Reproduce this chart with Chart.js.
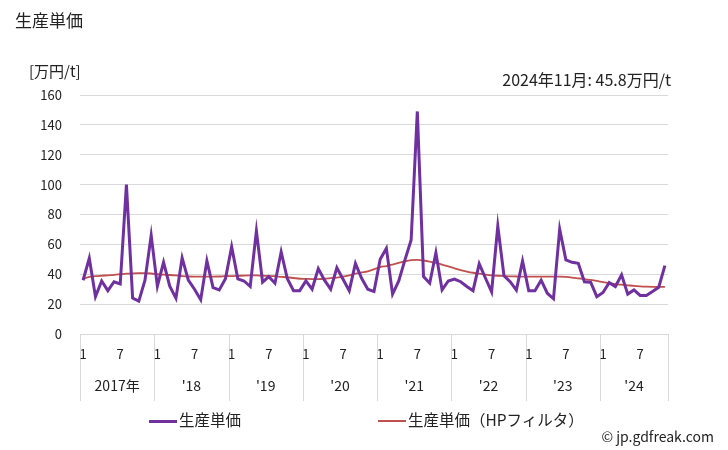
<!DOCTYPE html>
<html>
<head>
<meta charset="utf-8">
<script src="https://cdn.jsdelivr.net/npm/chart.js@4"></script>
<style>
body { margin: 0; background: #fff; font-family: "Noto Sans CJK JP", sans-serif; }
#wrap { position: relative; width: 728px; height: 450px; }
.txt { position: absolute; color: #222; white-space: nowrap; }
.leg { position: absolute; top: 408px; font-size: 15.5px; color: #222; white-space: nowrap; line-height: 22px; }
.leg i { display: inline-block; vertical-align: middle; width: 28px; margin-right: 2px; margin-top: -1px; }
</style>
</head>
<body>
<div id="wrap">
  <canvas id="chart" width="728" height="450"></canvas>
  <div class="txt" style="left:15px; top:7px; font-size:17px;">生産単価</div>
  <div class="txt" style="left:29px; top:60px; font-size:15px;">[万円/t]</div>
  <div class="txt" style="right:57px; top:67px; font-size:16px;">2024年11月: 45.8万円/t</div>
  <div class="txt" style="right:14px; top:426px; font-size:14px;">© jp.gdfreak.com</div>
  <div class="leg" style="left:149px;"><i style="height:3px; background:#7030a0;"></i>生産単価</div>
  <div class="leg" style="left:378px;"><i style="height:2px; background:#c0504d;"></i>生産単価（HPフィルタ）</div>
</div>
<script>
var years = ["2017年", "'18", "'19", "'20", "'21", "'22", "'23", "'24"];

var price = [
  36, 50.7, 25, 35.5, 29, 35, 33.5, 100, 24, 22, 36, 66,
  32, 48, 32, 24, 51, 36, 30, 23, 49, 31, 29.5, 37,
  58.4, 36.9, 35.5, 31.8, 69, 34.7, 38.4, 34, 55, 37, 29, 29,
  35.5, 30, 43.8, 36, 30, 44.4, 36.7, 29, 47.3, 37.3, 30, 28.4,
  50, 57.3, 26.7, 35.5, 49.6, 62.9, 149, 38.4, 34, 54.4, 29.5, 35.5,
  36.7, 35, 31.8, 29, 47, 37.5, 28.2, 72.2, 39, 35, 29.4, 48.9,
  29, 29, 36, 27.3, 23.6, 70.2, 49.6, 48, 47.3, 35, 34.7, 25,
  27.8, 34.4, 31.8, 39.6, 26.7, 29.5, 25.8, 25.8, 28.4, 31.3, 45.8
];

var hpTrend = [
  37, 38.3, 38.7, 39, 39.3, 39.6, 40, 40.4, 40.6, 40.7, 40.7, 40.5,
  40, 39.7, 39.5, 39.2, 38.8, 38.5, 38.4, 38.4, 38.4, 38.4, 38.5, 38.8,
  38.8, 38.9, 39.1, 39.2, 39.2, 39, 38.9, 38.7, 38.3, 38, 37.5, 37,
  36.9, 36.8, 36.8, 37, 37.4, 37.8, 38.4, 39.3, 40.4, 41.2, 42, 43.3,
  44.8, 45.5, 46.5, 47.6, 48.7, 49.4, 49.6, 49.2, 48.5, 47.6, 46.5, 45.2,
  44, 42.8, 41.8, 41, 40.4, 39.8, 39.3, 39, 38.8, 38.6, 38.5, 38.4,
  38.4, 38.4, 38.4, 38.4, 38.4, 38.4, 38.2, 37.8, 37.3, 36.8, 36.2, 35.5,
  34.7, 34, 33.4, 33, 32.6, 32.2, 31.9, 31.7, 31.6, 31.6, 31.6
];

var yTicks = [0, 20, 40, 60, 80, 100, 120, 140, 160];
var monthTicks = [1, 7];

// month labels: 2017/1 .. 2024/11
var labels = [];
for (var i = 0; i < price.length; i++) {
  labels.push((i % 12) + 1);
}

var yearAxis = {
  id: 'yearAxis',
  afterDraw: function(chart) {
    var ctx = chart.ctx;
    var x = chart.scales.x;
    var area = chart.chartArea;
    var top = area.bottom, bottom = 401;
    ctx.save();
    ctx.strokeStyle = '#d9d9d9';
    ctx.lineWidth = 1;
    ctx.beginPath();
    ctx.moveTo(area.left, top + 0.5);
    ctx.lineTo(area.right, top + 0.5);
    for (var y = 0; y <= years.length; y++) {
      var px;
      if (y == 0) px = area.left;
      else if (y == years.length) px = area.right;
      else px = (x.getPixelForValue(y * 12 - 1) + x.getPixelForValue(y * 12)) / 2;
      px = Math.round(px) + 0.5;
      ctx.moveTo(px, top);
      ctx.lineTo(px, bottom);
    }
    ctx.stroke();
    ctx.fillStyle = '#222';
    ctx.font = '13px "Noto Sans CJK JP"';
    ctx.textAlign = 'center';
    ctx.textBaseline = 'middle';
    labels.forEach(function(m, i) {
      if (monthTicks.indexOf(m) >= 0) ctx.fillText(String(m), x.getPixelForValue(i), 354);
    });
    ctx.font = '14px "Noto Sans CJK JP"';
    years.forEach(function(yl, k) {
      var first = k * 12;
      var last = Math.min(first + 11, labels.length - 1);
      var left = k == 0 ? area.left : (x.getPixelForValue(first - 1) + x.getPixelForValue(first)) / 2;
      var right = last == labels.length - 1 ? area.right : (x.getPixelForValue(last) + x.getPixelForValue(last + 1)) / 2;
      ctx.fillText(yl, (left + right) / 2, 386);
    });
    ctx.restore();
  }
};

var ctx = document.getElementById('chart').getContext('2d');
new Chart(ctx, {
  type: 'line',
  data: {
    labels: labels,
    datasets: [{
      label: '生産単価',
      data: price,
      borderColor: '#7030a0',
      backgroundColor: '#7030a0',
      borderWidth: 3,
      pointRadius: 0,
      tension: 0
    }, {
      label: '生産単価（HPフィルタ）',
      data: hpTrend,
      borderColor: '#c0504d',
      backgroundColor: '#c0504d',
      borderWidth: 1.8,
      pointRadius: 0,
      tension: 0.3
    }]
  },
  options: {
    responsive: false,
    animation: false,
    layout: { padding: { top: 95, right: 60, left: 0, bottom: 116 } },
    plugins: {
      legend: { display: false },
      tooltip: { enabled: false }
    },
    scales: {
      x: {
        offset: true,
        grid: { display: false },
        border: { display: false },
        ticks: { display: false },
        afterFit: function(s) { s.height = 0; }
      },
      y: {
        min: 0,
        max: 160,
        afterBuildTicks: function(s) {
          s.ticks = yTicks.map(function(v) { return { value: v }; });
        },
        grid: { color: '#d9d9d9', drawTicks: false },
        border: { display: false },
        ticks: {
          padding: 18,
          color: '#222',
          font: { size: 13, family: '"Noto Sans CJK JP"' }
        },
        afterFit: function(s) { s.width = 80; }
      }
    }
  },
  plugins: [yearAxis]
});
</script>
</body>
</html>
